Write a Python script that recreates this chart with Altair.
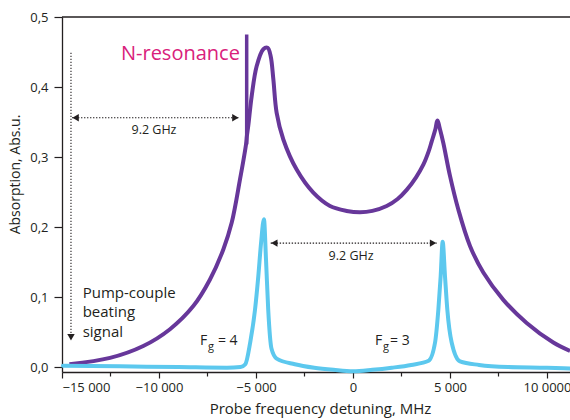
import altair as alt
import pandas as pd

# ---- data (probe detuning in MHz, absorption in Abs.u.) ----
# broad absorption profile
broad_x = [-14620, -12525, -10810, -9434, -8232, -7372, -6685, -6254, -5825, -5515,
           -5470, -5397, -5222, -4964, -4624, -4400, -4243, -4106, -3935, -3591,
           -2904, -2045, -1186, -326, 361, 1000, 1737, 2300, 2768, 3250, 3625, 3900, 4055,
           4250, 4347, 4500, 4656, 5000, 5429, 6031, 6718, 7749, 8952,
           10326, 11186]
broad_y = [0.004, 0.013, 0.030, 0.054, 0.087, 0.125, 0.168, 0.206, 0.268, 0.318,
           0.330, 0.345, 0.387, 0.430, 0.454, 0.456, 0.444, 0.411, 0.363, 0.325,
           0.282, 0.249, 0.230, 0.223, 0.221, 0.223, 0.230, 0.240, 0.253, 0.271, 0.289, 0.308, 0.322,
           0.340, 0.352, 0.338, 0.320, 0.273, 0.225, 0.173, 0.135, 0.096, 0.063,
           0.035, 0.023]

# narrow hyperfine lines F_g = 4 and F_g = 3
narrow_x = [-14950, -12000, -9000, -6500, -5800, -5550, -5300, -5050, -4880, -4740,
            -4590, -4485, -4370, -4200, -3935, -3000, -2000, -1000, 0, 1000,
            2000, 3000, 3900, 4230, 4400, 4520, 4622, 4742, 4862, 5086,
            5515, 6500, 8000, 10000, 11186]
narrow_y = [0.002, 0.001, 0.000, -0.001, 0.000, 0.004, 0.035, 0.082, 0.130, 0.177,
            0.211, 0.154, 0.082, 0.026, 0.012, 0.004, -0.001, -0.004, -0.006, -0.004,
            -0.001, 0.003, 0.009, 0.035, 0.082, 0.130, 0.179, 0.130, 0.082, 0.035,
            0.008, 0.003, 0.000, -0.001, -0.002]

# N-resonance spike on the broad profile
spike_x = [-5480]
spike_lo = [0.318]
spike_hi = [0.475]

# axis ticks and labels
x_major = [-15000, -10000, -5000, 0, 5000, 10000]
x_major_labels = ["\u221215 000", "\u221210 000", "\u22125 000", "0", "5 000", "10 0000"]
x_minor = [-12500, -7500, -2500, 2500, 7500]
y_major = [0.0, 0.1, 0.2, 0.3, 0.4, 0.5]
y_major_labels = ["0,0", "0,1", "0,2", "0,3", "0,4", "0,5"]
y_minor = [0.05, 0.15, 0.25, 0.35, 0.45]

X_DOMAIN = [-15000, 11186]
Y_DOMAIN = [-0.0071, 0.5]

INK = "#231F20"
PURPLE = "#67379A"
BLUE = "#5CC8EE"
PINK = "#D9217B"
FONT = "Open Sans"


def label_expr(values, labels):
    expr = "''"
    for v, t in reversed(list(zip(values, labels))):
        expr = f"abs(datum.value - ({v})) < 1e-6 ? '{t}' : {expr}"
    return expr


xs = alt.Scale(domain=X_DOMAIN, nice=False, zero=False)
ys = alt.Scale(domain=Y_DOMAIN, nice=False, zero=False)

x_axis = alt.Axis(
    values=sorted(x_major + x_minor),
    labelExpr=label_expr(x_major, x_major_labels),
    tickSize={"condition": {"test": "abs(datum.value % 5000) < 1", "value": 6}, "value": 4},
    tickColor=INK, domainColor=INK, domainWidth=1.3, tickWidth=1.2,
    labelColor=INK, labelFont=FONT, labelFontSize=13, labelPadding=3,
    grid=False, title="Probe frequency detuning, MHz",
    titleFont=FONT, titleFontSize=15, titleFontWeight="normal", titleColor=INK,
    titleX=258, titleY=36, titleBaseline="middle",
)
y_axis = alt.Axis(
    values=sorted(y_major + y_minor),
    labelExpr=label_expr(y_major, y_major_labels),
    tickSize={"condition": {"test": "abs(datum.value * 10 - round(datum.value * 10)) < 0.01",
                            "value": 8}, "value": 4},
    tickColor=INK, domainColor=INK, domainWidth=1.3, tickWidth=1.2,
    labelColor=INK, labelFont=FONT, labelFontSize=13, labelPadding=6,
    grid=False, title="Absorption, Abs.u.",
    titleFont=FONT, titleFontSize=14, titleFontWeight="normal", titleColor=INK,
    titleAngle=270, titleX=-47, titleY=157, titleAlign="center", titleBaseline="middle",
)

broad_df = pd.DataFrame({"x": broad_x, "y": broad_y})
narrow_df = pd.DataFrame({"x": narrow_x, "y": narrow_y})
spike_df = pd.DataFrame({"x": spike_x, "y": spike_lo, "y2": spike_hi})

broad = alt.Chart(broad_df).mark_line(
    color=PURPLE, strokeWidth=4, interpolate="catmull-rom", strokeCap="butt"
).encode(
    x=alt.X("x:Q", scale=xs, axis=x_axis),
    y=alt.Y("y:Q", scale=ys, axis=y_axis),
)

spike = alt.Chart(spike_df).mark_rule(color=PURPLE, strokeWidth=3.5).encode(
    x=alt.X("x:Q", scale=xs), y=alt.Y("y:Q", scale=ys), y2="y2:Q"
)

narrow = alt.Chart(narrow_df).mark_line(
    color=BLUE, strokeWidth=4, interpolate="monotone", strokeJoin="round", strokeCap="round"
).encode(
    x=alt.X("x:Q", scale=xs), y=alt.Y("y:Q", scale=ys)
)

# frame line along the top of the plot
top_df = pd.DataFrame({"x": [X_DOMAIN[0]], "x2": [X_DOMAIN[1]], "y": [Y_DOMAIN[1]]})
top_line = alt.Chart(top_df).mark_rule(color=INK, strokeWidth=1.5).encode(
    x=alt.X("x:Q", scale=xs), x2="x2:Q", y=alt.Y("y:Q", scale=ys)
)

# dotted annotation arrows
arrows_df = pd.DataFrame({
    "x": [-14485, -4243, -14537],
    "x2": [-5876, 4313, -14537],
    "y": [0.356, 0.177, 0.449],
    "y2": [0.356, 0.177, 0.040],
})
arrow_lines = alt.Chart(arrows_df).mark_rule(
    color=INK, strokeWidth=1.1, strokeDash=[1.4, 1.6]
).encode(
    x=alt.X("x:Q", scale=xs), x2="x2:Q", y=alt.Y("y:Q", scale=ys), y2="y2:Q"
)

# arrowheads (centres placed just inside each arrow end)
heads_df = pd.DataFrame({
    "x": [-14300, -4058, -6061, 4128, -14537],
    "y": [0.356, 0.177, 0.356, 0.177, 0.0425],
    "dir": ["triangle-left", "triangle-left", "triangle-right", "triangle-right", "triangle-down"],
})


def heads_for(direction):
    return alt.Chart(heads_df[heads_df["dir"] == direction]).mark_point(
        filled=True, color=INK, opacity=1, size=55, shape=direction, strokeWidth=0
    ).encode(x=alt.X("x:Q", scale=xs), y=alt.Y("y:Q", scale=ys))


heads = alt.layer(heads_for("triangle-left"), heads_for("triangle-right"),
                  heads_for("triangle-down"))

# text annotations
gap_df = pd.DataFrame({"x": [-10258, -100], "y": [0.339, 0.159], "t": ["9.2 GHz", "9.2 GHz"]})
beat_df = pd.DataFrame({
    "x": [-13934, -13934, -13934],
    "y": [0.0989, 0.0717, 0.043],
    "t": ["Pump-couple", "beating", "signal"],
})
gap_notes = alt.Chart(gap_df).mark_text(
    font=FONT, color=INK, fontSize=12.5, align="center", baseline="middle"
).encode(x=alt.X("x:Q", scale=xs), y=alt.Y("y:Q", scale=ys), text="t:N")
beat_notes = alt.Chart(beat_df).mark_text(
    font=FONT, color=INK, fontSize=15, align="left", baseline="alphabetic"
).encode(x=alt.X("x:Q", scale=xs), y=alt.Y("y:Q", scale=ys), text="t:N")

nres_df = pd.DataFrame({"x": [-11960], "y": [0.439], "t": ["N-resonance"]})
nres = alt.Chart(nres_df).mark_text(
    font=FONT, color=PINK, fontSize=20, align="left", baseline="alphabetic"
).encode(x=alt.X("x:Q", scale=xs), y=alt.Y("y:Q", scale=ys), text="t:N")

# F_g level labels: main letter, subscript, value
level_main_df = pd.DataFrame({
    "x": [-7887, -6960, 1134, 1907],
    "y": [0.032, 0.032, 0.032, 0.032],
    "t": ["F", "= 4", "F", "= 3"],
})
level_sub_df = pd.DataFrame({"x": [-7475, 1546], "y": [0.024, 0.024], "t": ["g", "g"]})
level_main = alt.Chart(level_main_df).mark_text(
    font=FONT, color=INK, fontSize=14, align="left", baseline="alphabetic"
).encode(x=alt.X("x:Q", scale=xs), y=alt.Y("y:Q", scale=ys), text="t:N")
level_sub = alt.Chart(level_sub_df).mark_text(
    font=FONT, color=INK, fontSize=11, align="left", baseline="alphabetic"
).encode(x=alt.X("x:Q", scale=xs), y=alt.Y("y:Q", scale=ys), text="t:N")

chart = alt.layer(
    broad, spike, narrow, top_line, arrow_lines, heads,
    gap_notes, beat_notes, nres, level_main, level_sub,
).properties(
    width=508, height=355,
    autosize="none",
    padding={"left": 62, "top": 17, "right": 0, "bottom": 48},
    background="white",
).configure_view(stroke=None)

chart.save("out.html", embed_options={"renderer": "svg", "actions": False})
